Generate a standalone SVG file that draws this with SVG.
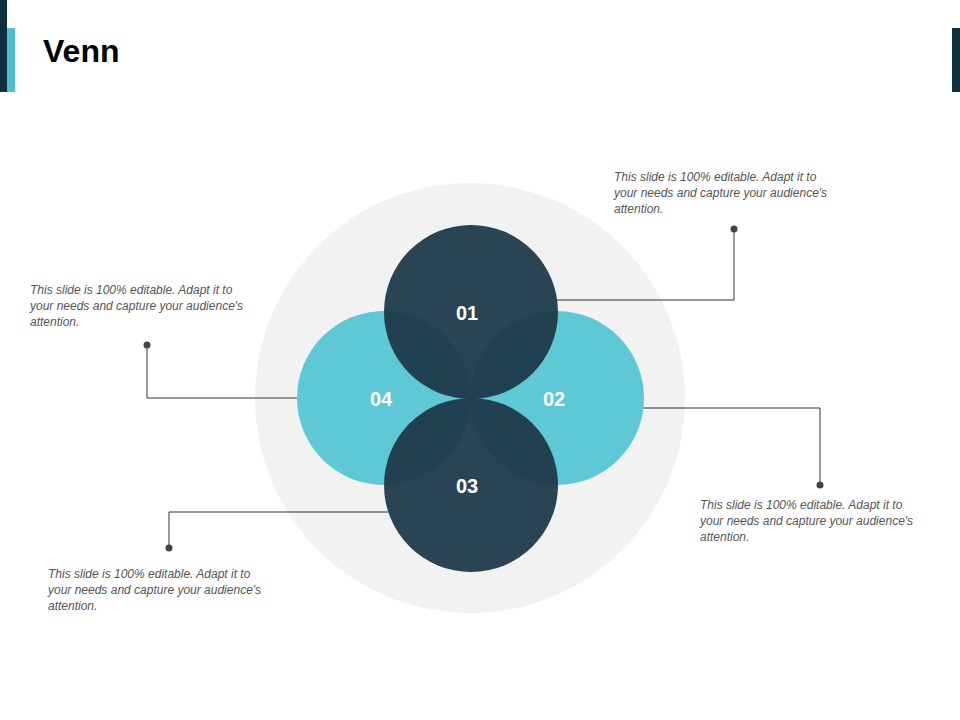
<svg xmlns="http://www.w3.org/2000/svg" width="960" height="720" viewBox="0 0 960 720">
<style>
.d{fill:#1e3a4a;fill-opacity:0.95}
.t{fill:#5ec8d6}
.n{font-family:"Liberation Sans",Arial,sans-serif;font-weight:bold;font-size:20px;fill:#fff;text-anchor:middle}
.p{font-family:"Liberation Sans",Arial,sans-serif;font-style:italic;font-size:12px;fill:#555}
.c{fill:none;stroke:#333;stroke-width:1}
.dot{fill:#444}
</style>
<rect width="960" height="720" fill="#fff"/>
<rect x="0" y="0" width="7" height="92" fill="#10303f"/>
<rect x="7" y="28" width="8" height="64" fill="#4fbfcf"/>
<rect x="952" y="28" width="8" height="64" fill="#10303f"/>
<text x="43" y="62" font-family="Liberation Sans,Arial,sans-serif" font-weight="bold" font-size="32" fill="#000">Venn</text>
<circle cx="470" cy="398" r="215" fill="#f2f2f2"/>
<g id="connectors">
<polyline class="c" points="556,300 734,300 734,229"/>
<circle class="dot" cx="734" cy="229" r="3.5"/>
<polyline class="c" points="642,408 820,408 820,485"/>
<circle class="dot" cx="820" cy="485" r="3.5"/>
<polyline class="c" points="300,398 147,398 147,345"/>
<circle class="dot" cx="147" cy="345" r="3.5"/>
<polyline class="c" points="388,512 169,512 169,548"/>
<circle class="dot" cx="169" cy="548" r="3.5"/>
</g>
<g id="n04"><circle class="t" cx="384" cy="398" r="87"/></g>
<g id="n02"><circle class="t" cx="557" cy="398" r="87"/></g>
<g id="n01"><circle class="d" cx="471" cy="312" r="87"/></g>
<g id="n03"><circle class="d" cx="471" cy="485" r="87"/></g>
<text class="n" x="467" y="320">01</text>
<text class="n" x="554" y="406">02</text>
<text class="n" x="467" y="493">03</text>
<text class="n" x="381" y="406">04</text>
<g id="t1" class="p"><text x="614" y="181">This slide is 100% editable. Adapt it to</text><text x="614" y="197">your needs and capture your audience's</text><text x="614" y="213">attention.</text></g>
<g id="t2" class="p"><text x="700" y="509">This slide is 100% editable. Adapt it to</text><text x="700" y="525">your needs and capture your audience's</text><text x="700" y="541">attention.</text></g>
<g id="t4" class="p"><text x="30" y="294">This slide is 100% editable. Adapt it to</text><text x="30" y="310">your needs and capture your audience's</text><text x="30" y="326">attention.</text></g>
<g id="t3" class="p"><text x="48" y="578">This slide is 100% editable. Adapt it to</text><text x="48" y="594">your needs and capture your audience's</text><text x="48" y="610">attention.</text></g>
</svg>
